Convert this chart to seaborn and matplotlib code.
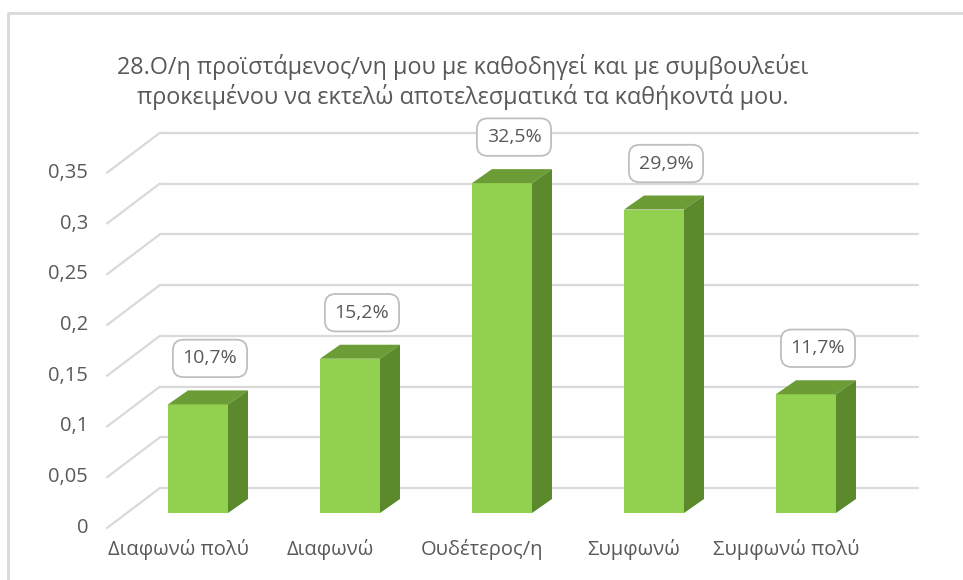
import numpy as np
import pandas as pd
import matplotlib
matplotlib.use("Agg")
import matplotlib.pyplot as plt
import seaborn as sns
from matplotlib.patches import Polygon
from matplotlib.lines import Line2D

# --- data -------------------------------------------------------------
categories = ["Διαφωνώ πολύ", "Διαφωνώ", "Ουδέτερος/η", "Συμφωνώ", "Συμφωνώ πολύ"]
shares = [0.107, 0.152, 0.325, 0.299, 0.117]
value_labels = ["10,7%", "15,2%", "32,5%", "29,9%", "11,7%"]
y_ticks = [0, 0.05, 0.1, 0.15, 0.2, 0.25, 0.3, 0.35]
y_tick_labels = ["0", "0,05", "0,1", "0,15", "0,2", "0,25", "0,3", "0,35"]
title_lines = [
    "28.Ο/η προϊστάμενος/νη μου με καθοδηγεί και με συμβουλεύει",
    "προκειμένου να εκτελώ αποτελεσματικά τα καθήκοντά μου.",
]

# --- style ------------------------------------------------------------
W, H, DPI = 963, 580, 100
sns.set_theme(style="white")
plt.rcParams["font.family"] = ["Open Sans", "DejaVu Sans"]
TEXT = "#595959"
GRID = "#d9d9d9"
FRONT = "#92D050"
TOP = "#6B9C36"
SIDE = "#5A8A2C"

fig = plt.figure(figsize=(W / DPI, H / DPI), dpi=DPI)
fig.patch.set_facecolor("white")
ax = fig.add_axes([0, 0, 1, 1])

# pixel geometry: first category centre, spacing, zero line, pixels per unit
X0, DX = 198, 152
Y0, DY = 513, 1015
px = lambda p: p / DX          # horizontal pixels -> data units
py = lambda p: p / DY          # vertical pixels -> data units

df = pd.DataFrame({"category": categories, "share": shares})
sns.barplot(data=df, x="category", y="share", color=FRONT, saturation=1,
            width=px(60), linewidth=0, ax=ax, zorder=3)

ax.set_xlim(-X0 / DX, (W - X0) / DX)
ax.set_ylim(-(H - Y0) / DY, Y0 / DY)
ax.axis("off")

# back wall and side wall gridlines
back_dy = py(25)
wall_left, wall_right = px(160 - X0), px(918 - X0)
corner_x, corner_dy = px(107 - X0), py(15)
for v in y_ticks:
    ax.add_line(Line2D([wall_left, wall_right], [v + back_dy, v + back_dy],
                       color=GRID, lw=1.6, zorder=1))
    ax.add_line(Line2D([corner_x, wall_left], [v - corner_dy, v + back_dy],
                       color=GRID, lw=1.6, zorder=1))

# y tick labels along the side wall
for v, lab in zip(y_ticks, y_tick_labels):
    ax.text(px(88 - X0), v - corner_dy, lab, ha="right", va="center",
            fontsize=14.5, color=TEXT)

# depth faces for each bar
ddx, ddy = px(20), py(14)
bars = list(ax.patches)
for bar in bars:
    x0, w, h = bar.get_x(), bar.get_width(), bar.get_height()
    top = Polygon([(x0, h), (x0 + w, h), (x0 + w + ddx, h + ddy), (x0 + ddx, h + ddy)],
                  closed=True, facecolor=TOP, edgecolor="none", zorder=3)
    side = Polygon([(x0 + w, 0), (x0 + w + ddx, ddy), (x0 + w + ddx, h + ddy), (x0 + w, h)],
                   closed=True, facecolor=SIDE, edgecolor="none", zorder=3)
    ax.add_patch(top)
    ax.add_patch(side)

# value labels in rounded boxes
for bar, lab in zip(bars, value_labels):
    cx = bar.get_x() + bar.get_width() / 2 + px(12)
    ax.text(cx, bar.get_height() + py(46), lab, ha="center", va="center",
            fontsize=14, color=TEXT, zorder=5,
            bbox=dict(boxstyle="round,pad=0.5,rounding_size=0.55",
                      facecolor="white", edgecolor="#bfbfbf", lw=1.3))

# category labels
for i, cat in enumerate(categories):
    ax.text(i - px(20), -py(36), cat, ha="center", va="center",
            fontsize=14.5, color=TEXT)

# title
fig.text(463 / W, 1 - 67 / H, title_lines[0], ha="center", va="center",
         fontsize=16.8, color=TEXT)
fig.text(463 / W, 1 - 97 / H, title_lines[1], ha="center", va="center",
         fontsize=16.8, color=TEXT)

# chart frame
fig.add_artist(Line2D([8 / W, 8 / W, 1], [0, 1 - 13 / H, 1 - 13 / H],
                      transform=fig.transFigure, color=GRID, lw=2))

fig.savefig("out.png", dpi=DPI)
